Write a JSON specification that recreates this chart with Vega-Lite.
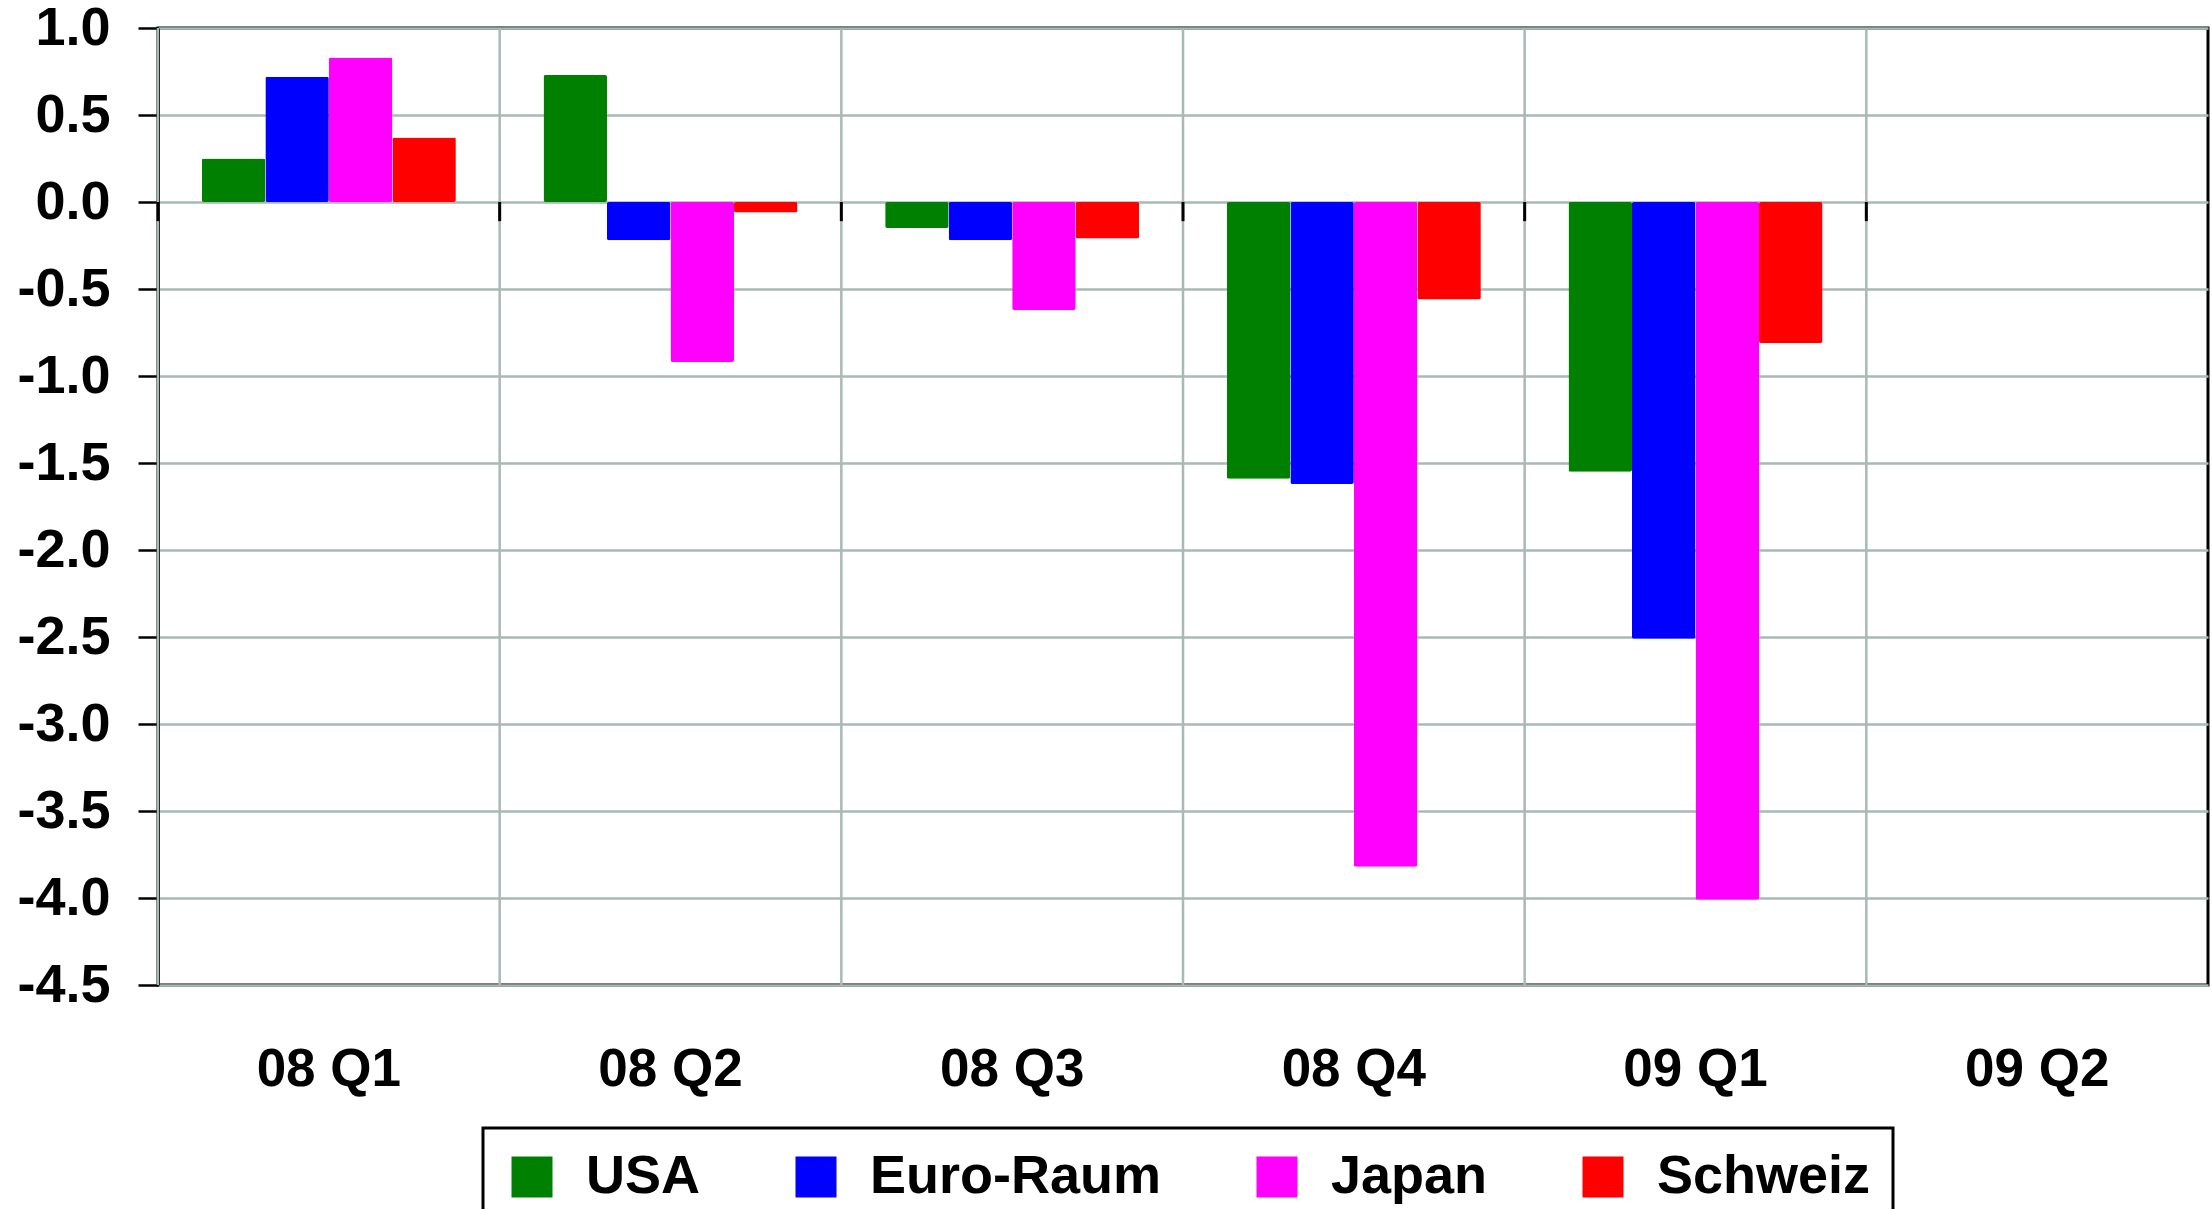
{
  "$schema": "https://vega.github.io/schema/vega-lite/v6.json",
  "width": 2050,
  "height": 957,
  "autosize": "none",
  "padding": {"left": 158, "top": 28, "right": 4, "bottom": 224},
  "background": "white",
  "config": {
    "font": "Liberation Sans",
    "view": {"stroke": "black", "strokeWidth": 3},
    "axis": {"labelFont": "Liberation Sans", "labelFontWeight": "bold", "labelColor": "black"},
    "legend": {"strokeWidth": 3}
  },
  "datasets": {
    "gdp": [
      {"q": "08 Q1", "land": "USA", "v": 0.25},
      {"q": "08 Q1", "land": "Euro-Raum", "v": 0.72},
      {"q": "08 Q1", "land": "Japan", "v": 0.83},
      {"q": "08 Q1", "land": "Schweiz", "v": 0.37},
      {"q": "08 Q2", "land": "USA", "v": 0.73},
      {"q": "08 Q2", "land": "Euro-Raum", "v": -0.22},
      {"q": "08 Q2", "land": "Japan", "v": -0.92},
      {"q": "08 Q2", "land": "Schweiz", "v": -0.06},
      {"q": "08 Q3", "land": "USA", "v": -0.15},
      {"q": "08 Q3", "land": "Euro-Raum", "v": -0.22},
      {"q": "08 Q3", "land": "Japan", "v": -0.62},
      {"q": "08 Q3", "land": "Schweiz", "v": -0.21},
      {"q": "08 Q4", "land": "USA", "v": -1.59},
      {"q": "08 Q4", "land": "Euro-Raum", "v": -1.62},
      {"q": "08 Q4", "land": "Japan", "v": -3.82},
      {"q": "08 Q4", "land": "Schweiz", "v": -0.56},
      {"q": "09 Q1", "land": "USA", "v": -1.55},
      {"q": "09 Q1", "land": "Euro-Raum", "v": -2.51},
      {"q": "09 Q1", "land": "Japan", "v": -4.01},
      {"q": "09 Q1", "land": "Schweiz", "v": -0.81}
    ],
    "quarters": [
      {"q": "08 Q1"}, {"q": "08 Q2"}, {"q": "08 Q3"}, {"q": "08 Q4"}, {"q": "09 Q1"}, {"q": "09 Q2"}
    ]
  },
  "layer": [
    {
      "data": {"name": "quarters"},
      "mark": {"type": "rule", "color": "#A9B9B4", "strokeWidth": 2.5},
      "encoding": {
        "x": {
          "field": "q", "type": "nominal", "bandPosition": 0,
          "scale": {"domain": ["08 Q1", "08 Q2", "08 Q3", "08 Q4", "09 Q1", "09 Q2"], "paddingInner": 0, "paddingOuter": 0},
          "axis": {"title": null, "grid": false, "ticks": false, "domain": false, "labelAngle": 0, "labelPadding": 58, "labelFontSize": 53, "labelFontWeight": "bold", "labelColor": "black", "bandPosition": 0.5}
        }
      }
    },
    {
      "data": {"name": "gdp"},
      "mark": {"type": "bar", "cornerRadius": 2},
      "encoding": {
        "x": {"field": "q", "type": "nominal"},
        "xOffset": {"field": "land", "type": "nominal", "scale": {"domain": ["USA", "Euro-Raum", "Japan", "Schweiz"], "paddingInner": 0, "paddingOuter": 0.69}},
        "y": {
          "field": "v", "type": "quantitative",
          "scale": {"domain": [-4.5, 1.0], "nice": false, "zero": false},
          "axis": {
            "title": null,
            "values": [-4.5, -4.0, -3.5, -3.0, -2.5, -2.0, -1.5, -1.0, -0.5, 0.0, 0.5, 1.0],
            "labelExpr": "datum.value < 0 ? '-' + format(-datum.value, '.1f') : format(datum.value, '.1f')",
            "grid": true, "gridColor": "#A9B9B4", "gridWidth": 2.5,
            "tickSize": 20, "tickWidth": 2.5, "tickColor": "black",
            "domain": true, "domainColor": "black", "domainWidth": 3,
            "labelPadding": 28, "labelFontSize": 54
          }
        },
        "color": {
          "field": "land", "type": "nominal",
          "scale": {"domain": ["USA", "Euro-Raum", "Japan", "Schweiz"], "range": ["#008000", "#0000FF", "#FF00FF", "#FF0000"]},
          "legend": {
            "title": null, "orient": "none", "legendX": 325, "legendY": 1100,
            "direction": "horizontal", "strokeColor": "black", "padding": 22,
            "symbolType": "square", "symbolSize": 1681, "symbolStrokeWidth": 0,
            "labelFontSize": 54, "labelFont": "Liberation Sans", "labelFontWeight": "bold", "labelColor": "black",
            "labelOffset": 27, "columnPadding": 88, "labelLimit": 0
          }
        }
      }
    },
    {
      "mark": {"type": "rule", "color": "black", "strokeWidth": 3},
      "encoding": {"y": {"datum": 0, "type": "quantitative"}}
    },
    {
      "data": {"name": "quarters"},
      "mark": {"type": "rule", "color": "black", "strokeWidth": 3},
      "encoding": {
        "x": {"field": "q", "type": "nominal", "bandPosition": 0},
        "y": {"datum": 0, "type": "quantitative"},
        "y2": {"datum": -0.11}
      }
    }
  ]
}
